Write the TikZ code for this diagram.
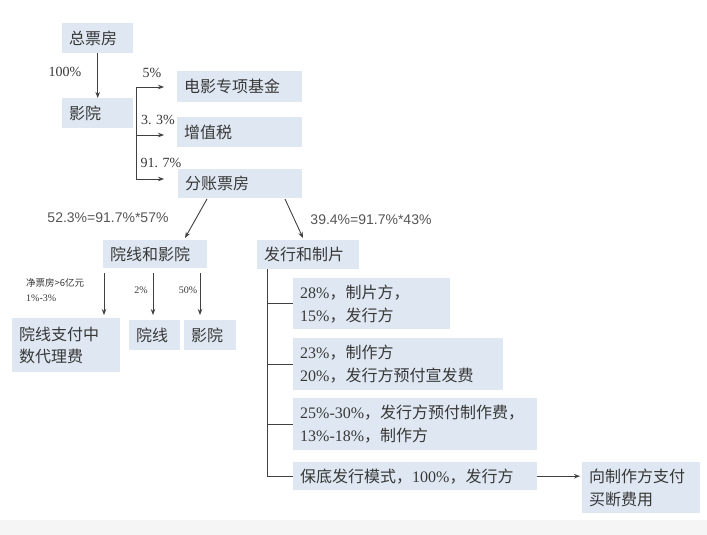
\documentclass[tikz,border=0pt]{standalone}
\usepackage{fontspec}
\setmainfont{Liberation Serif}
\newfontfamily\cjkf{Noto Sans CJK SC}
\newfontfamily\arialf{Liberation Sans}
\newfontfamily\serf{Liberation Serif}
\newcommand\lat[1]{{\serf #1}}
\usetikzlibrary{arrows.meta}
\definecolor{boxblue}{HTML}{DFE8F2}
\definecolor{txt}{HTML}{383838}
\definecolor{ln}{HTML}{404040}
\definecolor{band}{HTML}{F5F5F5}
\begin{document}
\begin{tikzpicture}[x=1pt,y=-1pt,
  box/.style={fill=boxblue, draw=none, anchor=north west, align=left, inner xsep=7pt, inner ysep=0pt,
    text=txt, font=\cjkf\fontsize{16}{23}\selectfont},
  arr/.style={draw=ln, line width=0.9pt, -{Stealth[length=6pt,width=4.5pt]}},
  lin/.style={draw=ln, line width=0.9pt},
  pct/.style={text=txt, font=\fontsize{14}{16}\selectfont, inner sep=0pt},
  eq/.style={text=txt!85, font=\arialf\fontsize{14}{16}\selectfont, inner sep=0pt},
  small/.style={text=txt, font=\cjkf\fontsize{9.5}{14}\selectfont, inner sep=0pt, anchor=west}]
\useasboundingbox (0,0) rectangle (707,535);
\fill[white] (0,0) rectangle (707,520);
\fill[band] (0,520) rectangle (707,535);

% boxes
\node[box, text width=57pt, minimum height=30pt] (zongpf) at (62,23) {总票房};
\node[box, text width=57pt, minimum height=30pt] (yingyuan) at (62,98) {影院};
\node[box, text width=111pt, minimum height=31pt] (jijin) at (177,71) {电影专项基金};
\node[box, text width=111pt, minimum height=30pt] (zzs) at (177,117) {增值税};
\node[box, text width=110pt, minimum height=29pt] (fzpf) at (178,169) {分账票房};
\node[box, text width=90pt, minimum height=28pt] (yxyy) at (103,240) {院线和影院};
\node[box, text width=88pt, minimum height=29pt] (fxzp) at (257,240) {发行和制片};
\node[box, text width=94pt, minimum height=54pt, font=\cjkf\fontsize{16}{22}\selectfont] (daili) at (12,318) {院线支付中\\数代理费};
\node[box, text width=37pt, minimum height=30pt] (yx) at (129,320) {院线};
\node[box, text width=38pt, minimum height=30pt] (yy2) at (184,320) {影院};
\node[box, text width=143pt, minimum height=51pt] (b1) at (293,278) {\lat{28\%}，制片方，\\\lat{15\%}，发行方};
\node[box, text width=196pt, minimum height=52pt] (b2) at (293,338) {\lat{23\%}，制作方\\\lat{20\%}，发行方预付宣发费};
\node[box, text width=230pt, minimum height=52pt] (b3) at (293,398) {\mbox{\lat{25\%-30\%}，发行方预付制作费，}\\\lat{13\%-18\%}，制作方};
\node[box, text width=230pt, minimum height=28pt] (b4) at (293,462) {保底发行模式，\lat{100\%}，发行方};
\node[box, text width=104pt, minimum height=51pt] (b5) at (582,462) {向制作方支付\\买断费用};

% top
\draw[arr] (zongpf.south) -- (yingyuan.north);
\node[pct] (l100) at (65,72) {100\%};

\coordinate (t1) at (136,87);
\coordinate (t2) at (136,135);
\coordinate (t3) at (136,179);
\coordinate (e1) at (164,87);
\coordinate (e2) at (164,135);
\coordinate (e3) at (164,179);
\draw[lin] (t1) -- (t3);
\draw[arr] (t1) -- (e1);
\draw[arr] (t2) -- (e2);
\draw[arr] (t3) -- (e3);
\node[pct] (l5) at (152,73) {5\%};
\node[pct] (l33) at (158,120) {3. 3\%};
\node[pct] (l917) at (161,163) {91. 7\%};

% split
\coordinate (s1) at (207,199);
\coordinate (s2) at (185,238);
\coordinate (s3) at (285,199);
\coordinate (s4) at (303,238);
\draw[arr] (s1) -- (s2);
\draw[arr] (s3) -- (s4);
\node[eq] (eqL) at (108,218) {52.3\%=91.7\%*57\%};
\node[eq] (eqR) at (371,220) {39.4\%=91.7\%*43\%};

% left subtree
\coordinate (d1) at (104,273);
\coordinate (d2) at (153,273);
\coordinate (d3) at (200,273);
\draw[arr] (d1) -- (104,315);
\draw[arr] (d2) -- (153,315);
\draw[arr] (d3) -- (200,315);
\node[small] (n1) at (26,283) {净票房>6亿元};
\node[small, font=\fontsize{10}{12}\selectfont] (n2) at (26,298) {1\%-3\%};
\node[pct, font=\fontsize{10}{12}\selectfont] (n3) at (141,290) {2\%};
\node[pct, font=\fontsize{10}{12}\selectfont] (n4) at (188,290) {50\%};

% right subtree
\coordinate (v0) at (267,269);
\draw[lin] (v0) |- (b4.west);
\draw[lin] (v0 |- b1.west) -- (b1.west);
\draw[lin] (v0 |- b2.west) -- (b2.west);
\draw[lin] (v0 |- b3.west) -- (b3.west);
\draw[arr] (b4.east) -- ([xshift=-2pt]b4.east -| b5.west);
\end{tikzpicture}
\end{document}
